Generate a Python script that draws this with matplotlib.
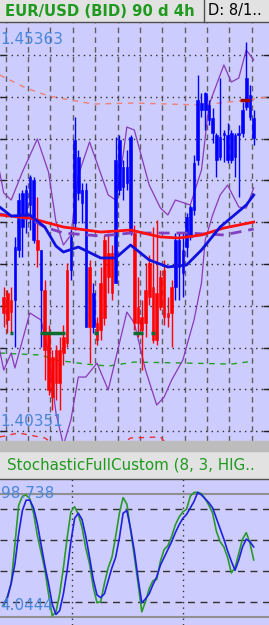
import matplotlib
matplotlib.use("Agg")
import matplotlib.pyplot as plt
from matplotlib.patches import Rectangle
from matplotlib.lines import Line2D

W, H = 269, 625
lavender = "#ccccff"

# ---- candles (EUR/USD 4h) ----
opens = [1.4211, 1.4215, 1.4207, 1.4207, 1.4267, 1.4294, 1.4306, 1.4321, 1.4279, 1.4279,
         1.4219, 1.4219, 1.4168, 1.4139, 1.4147, 1.4147, 1.4163, 1.4243, 1.4243, 1.4299,
         1.4335, 1.4323, 1.4175, 1.4247, 1.4175, 1.4179, 1.4227, 1.4279, 1.4263, 1.4263,
         1.4227, 1.4339, 1.4342, 1.4347, 1.4287, 1.4287, 1.4199, 1.4187, 1.4219, 1.4251,
         1.4223, 1.4215, 1.4235, 1.4243, 1.4191, 1.4223, 1.4223, 1.4247, 1.4239, 1.4270,
         1.4282, 1.4315, 1.4374, 1.4434, 1.4434, 1.4422, 1.4407, 1.4374, 1.4378, 1.4404,
         1.4374, 1.4374, 1.4378, 1.4404, 1.4407, 1.4438, 1.4426, 1.4401]
highs = [1.4223, 1.4219, 1.4223, 1.4282, 1.4335, 1.4339, 1.4345, 1.4357, 1.4354, 1.4330,
         1.4267, 1.4231, 1.4177, 1.4147, 1.4153, 1.4163, 1.4177, 1.4251, 1.4291, 1.4426,
         1.4387, 1.4347, 1.4347, 1.4255, 1.4227, 1.4187, 1.4247, 1.4285, 1.4287, 1.4273,
         1.4402, 1.4404, 1.4374, 1.4386, 1.4404, 1.4297, 1.4235, 1.4207, 1.4251, 1.4261,
         1.4294, 1.4303, 1.4243, 1.4255, 1.4211, 1.4231, 1.4287, 1.4287, 1.4287, 1.4311,
         1.4321, 1.4380, 1.4476, 1.4455, 1.4456, 1.4446, 1.4437, 1.4407, 1.4472, 1.4410,
         1.4419, 1.4410, 1.4407, 1.4416, 1.4444, 1.4516, 1.4464, 1.4434]
lows = [1.4175, 1.4168, 1.4168, 1.4151, 1.4258, 1.4258, 1.4287, 1.4291, 1.4275, 1.4247,
        1.4151, 1.4111, 1.4093, 1.4075, 1.4087, 1.4075, 1.4129, 1.4151, 1.4231, 1.4291,
        1.4327, 1.4299, 1.4175, 1.4132, 1.4168, 1.4153, 1.4159, 1.4177, 1.4215, 1.4207,
        1.4227, 1.4333, 1.4327, 1.4339, 1.4285, 1.4171, 1.4163, 1.4123, 1.4163, 1.4201,
        1.4156, 1.4153, 1.4195, 1.4177, 1.4175, 1.4151, 1.4207, 1.4207, 1.4211, 1.4258,
        1.4279, 1.4309, 1.4368, 1.4426, 1.4410, 1.4416, 1.4395, 1.4354, 1.4374, 1.4372,
        1.4371, 1.4371, 1.4354, 1.4330, 1.4402, 1.4434, 1.4422, 1.4392]
closes = [1.4191, 1.4183, 1.4193, 1.4270, 1.4327, 1.4335, 1.4339, 1.4354, 1.4351, 1.4267,
          1.4267, 1.4147, 1.4099, 1.4091, 1.4108, 1.4108, 1.4144, 1.4156, 1.4282, 1.4398,
          1.4378, 1.4339, 1.4339, 1.4175, 1.4215, 1.4159, 1.4171, 1.4186, 1.4235, 1.4215,
          1.4374, 1.4398, 1.4366, 1.4366, 1.4402, 1.4179, 1.4179, 1.4171, 1.4179, 1.4211,
          1.4159, 1.4159, 1.4199, 1.4187, 1.4187, 1.4191, 1.4279, 1.4279, 1.4267, 1.4306,
          1.4318, 1.4371, 1.4446, 1.4443, 1.4455, 1.4440, 1.4425, 1.4404, 1.4402, 1.4407,
          1.4404, 1.4407, 1.4404, 1.4407, 1.4434, 1.4472, 1.4452, 1.4425]

# ---- overlays (x = candle index) ----
ma_slow_x = [-1.1, 7, 16, 26, 34, 42, 47, 53, 59, 67]
ma_slow = [1.43087, 1.43051, 1.42943, 1.42883, 1.42907, 1.42824, 1.42812, 1.42848, 1.42931, 1.43003]

ma_fast_x = [-1.1, 2, 7, 11, 14, 16, 20, 26, 30, 34, 39, 44, 49, 53, 58, 65, 67]
ma_fast = [1.43182, 1.43075, 1.43087, 1.42943, 1.42716, 1.42644, 1.42704, 1.42573, 1.42573,
           1.42728, 1.42549, 1.42465, 1.42489, 1.42668, 1.42943, 1.43206, 1.43326]

ma_dash_x = [-1.1, 7, 11, 16, 26, 34, 49, 59, 67]
ma_dash = [1.43099, 1.43039, 1.42943, 1.42871, 1.42836, 1.42871, 1.42871, 1.42848, 1.42919]

bb_up_x = [-1.1, 0, 2, 5, 9, 12, 14, 16, 18, 20, 23, 25, 28, 30, 32, 33, 35, 39, 42, 44, 46,
           50, 53, 55, 59, 61, 63, 65, 67]
bb_up = [1.43601, 1.43350, 1.43266, 1.43601, 1.43996, 1.43601, 1.43003, 1.42728, 1.42848,
         1.43565, 1.43960, 1.43709, 1.43326, 1.43266, 1.43804, 1.44139, 1.44103, 1.43445,
         1.43170, 1.43087, 1.43266, 1.43206, 1.43625, 1.44402, 1.44881, 1.44677, 1.44725,
         1.45060, 1.44940]

bb_lo_x = [-1.1, 0, 2, 3, 7, 10, 12, 14, 16, 18, 20, 22, 25, 28, 33, 35, 38, 41, 43, 45, 48,
           51, 53, 54, 56, 58, 60, 63, 65, 67]
bb_lo = [1.41472, 1.41233, 1.41436, 1.41257, 1.41915, 1.41831, 1.41436, 1.40719, 1.40336,
         1.40635, 1.41149, 1.41149, 1.41316, 1.40994, 1.41926, 1.41795, 1.41233, 1.40814,
         1.40910, 1.41113, 1.41352, 1.41831, 1.42274, 1.42788, 1.43087, 1.43326, 1.43445,
         1.43182, 1.43170, 1.43410]

res_x = [-1.1, 6, 12, 24, 35, 53, 65, 71]
res_line = [1.44761, 1.44605, 1.44510, 1.44414, 1.44426, 1.44402, 1.44462, 1.44498]

sup_x = [-1.1, 10, 14, 22, 28, 35, 49, 61, 67]
sup_line = [1.41436, 1.41412, 1.41352, 1.41304, 1.41280, 1.41328, 1.41316, 1.41304, 1.41340]

low_x = [-1.1, 4, 11, 14, 31, 34, 42, 44]
low_line = [1.40432, 1.40480, 1.40420, 1.40330, 1.40330, 1.40420, 1.40432, 1.40330]

green_lvl = 1.41675
green_segs = [(1.6, 2.4), (9.6, 16.3), (24.3, 25.2), (34.6, 37.2), (39.6, 40.5)]
red_lvl = 1.44462
red_segs = [(63.2, 65.9)]

price_hi, price_lo = 1.45363, 1.40351

# ---- stochastic ----
stoch_k = [13, 20, 30, 60, 90, 97, 98, 95, 84, 67, 54, 41, 22, 5, 8, 22, 42, 65, 85, 89,
           83, 73, 57, 45, 27, 15, 16, 30, 42, 50, 66, 84, 96, 91, 71, 51, 30, 8, 16, 26,
           32, 33, 47, 56, 59, 66, 75, 81, 85, 87, 97, 100, 100, 99, 95, 90, 84, 70, 62, 58,
           50, 38, 42, 53, 64, 69, 61, 48]
stoch_d = [14, 19, 30, 45, 68, 86, 94, 94, 88, 76, 60, 44, 30, 14, 6, 9, 22, 40, 62, 80,
           84, 79, 66, 50, 33, 21, 19, 22, 32, 42, 50, 65, 84, 86, 72, 55, 34, 15, 18, 22,
           29, 35, 44, 50, 56, 62, 69, 75, 80, 83, 88, 93, 100, 98, 95, 92, 88, 80, 72, 64,
           55, 47, 40, 48, 58, 64, 62, 58]
stoch_hi, stoch_lo = 98.738, 4.0444
stoch_grid = [15.6, 39.5, 63.3, 87.2]

fig = plt.figure(figsize=(W / 100, H / 100), dpi=100)
fig.patch.set_facecolor("#e2e2e2")


def fy(px):
    return 1 - px / H


# main price panel
ax = fig.add_axes([0, fy(441), 1, (441 - 22) / H])
ax.set_facecolor(lavender)
ax.set_xlim(-1.0, 71.1)
ax.set_ylim(1.40384, 1.45395)
for s in ax.spines.values():
    s.set_visible(False)
ax.set_xticks([])
ax.set_yticks([1.405 + 0.005 * k for k in range(10)])
ax.tick_params(axis="y", direction="in", length=4, width=1, color="#202020",
               left=True, right=True, labelleft=False)
ax.grid(axis="y", color="#303030", linestyle=(0, (1, 3)), linewidth=1)
for k in range(12):
    ax.axvline(0.5 + 6 * k, color="#606060", linestyle=(0, (4, 3)), linewidth=1, zorder=1)

ax.plot(res_x, res_line, color="#f08070", lw=1, dashes=(4, 4), zorder=2)
ax.plot(sup_x, sup_line, color="#20a020", lw=1, dashes=(4, 4), zorder=2)
ax.plot(low_x, low_line, color="#f03030", lw=1, dashes=(4, 4), zorder=2)
ax.plot(bb_up_x, bb_up, color="#8a3ab8", lw=0.9, zorder=3)
ax.plot(bb_lo_x, bb_lo, color="#8a3ab8", lw=0.9, zorder=3)

x = list(range(len(opens)))
for i in x:
    up = closes[i] >= opens[i]
    c = "#0000ff" if up else "#ff0000"
    ax.vlines(i, lows[i], highs[i], color=c, lw=1, zorder=4)
    lo_b = min(opens[i], closes[i])
    hi_b = max(opens[i], closes[i])
    ax.bar(i, max(hi_b - lo_b, 0.00004), bottom=lo_b, width=0.7, color=c,
           edgecolor=c, linewidth=0.4, zorder=5)

for a, b in green_segs:
    ax.hlines(green_lvl, a, b, color="#0d6b2d", lw=2.5, zorder=6)
for a, b in red_segs:
    ax.hlines(red_lvl, a, b, color="#a00000", lw=2.5, zorder=6)

ax.plot(ma_dash_x, ma_dash, color="#8040c0", lw=2, dashes=(4, 2.5), zorder=6)
ax.plot(ma_slow_x, ma_slow, color="#ff1010", lw=2, zorder=7)
ax.plot(ma_fast_x, ma_fast, color="#1010e0", lw=2, zorder=7)

ax.text(0.003, fy(40), f"{price_hi:.5f}", transform=fig.transFigure, color="#4a86d8",
        fontsize=11, va="center", ha="left", zorder=10)
ax.text(0.003, fy(422), f"{price_lo:.5f}", transform=fig.transFigure, color="#4a86d8",
        fontsize=11, va="center", ha="left", zorder=10)

# stochastic panel
ax2 = fig.add_axes([0, 0, 1, (625 - 479) / H])
ax2.set_facecolor(lavender)
ax2.set_xlim(-1.0, 71.1)
ax2.set_ylim(-2.1, 110.3)
for s in ax2.spines.values():
    s.set_visible(False)
ax2.set_xticks([])
ax2.set_yticks([])
for v in stoch_grid:
    ax2.axhline(v, color="#303030", linestyle=(0, (5, 4)), lw=1)
for v in [18.3, 48.0]:
    ax2.axvline(v, color="#303030", linestyle=(0, (1, 3)), lw=1)
ax2.axhline(stoch_hi, color="#909090", lw=1.5)
ax2.axhline(stoch_lo, color="#909090", lw=1.5)
ax2.plot(x, stoch_k, color="#2a9a2a", lw=1.2)
ax2.plot(x, stoch_d, color="#2020e0", lw=1.2)
ax2.text(0.003, fy(494), f"{stoch_hi:.3f}", transform=fig.transFigure, color="#4a86d8",
         fontsize=11, va="center", ha="left")
ax2.text(0.0, fy(606), f"{stoch_lo:.4f}", transform=fig.transFigure, color="#4a86d8",
         fontsize=11, va="center", ha="left")

# frames, headers
fig.patches.append(Rectangle((0, fy(451)), 1, 10 / H, transform=fig.transFigure,
                             color="#bcbcbc", zorder=0))
fig.lines.append(Line2D([0, 1], [fy(21.5), fy(21.5)], transform=fig.transFigure,
                        color="#505050", lw=1))
fig.lines.append(Line2D([0, 1], [fy(478.5), fy(478.5)], transform=fig.transFigure,
                        color="#505050", lw=1))
fig.lines.append(Line2D([204 / W, 204 / W], [fy(0), fy(21.5)], transform=fig.transFigure,
                        color="#505050", lw=1))
fig.text(5 / W, fy(11), "EUR/USD (BID) 90 d 4h", color="#1f9a1f", fontweight="bold",
         fontsize=10.7, va="center", ha="left")
fig.text(208 / W, fy(11), "D: 8/1..", color="black", fontsize=10.5, va="center", ha="left")
fig.text(7 / W, fy(465), "StochasticFullCustom (8, 3, HIG..", color="#1f9a1f",
         fontsize=10.9, va="center", ha="left")

fig.savefig("out.png", dpi=100, facecolor=fig.get_facecolor())
